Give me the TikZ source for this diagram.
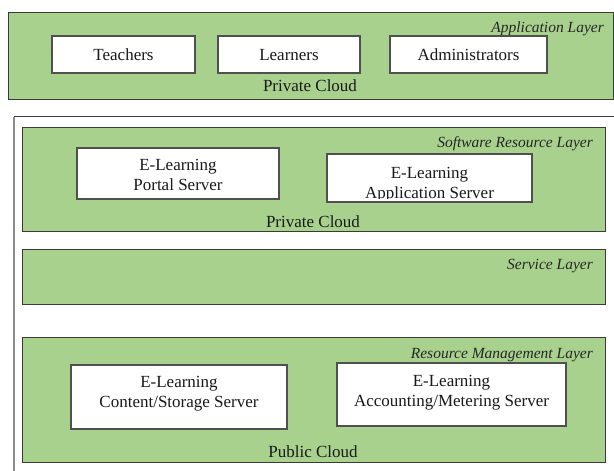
\documentclass[tikz,border=0pt]{standalone}
\usepackage{fontspec}
\setmainfont{LiberationSerif}[Extension=.ttf, UprightFont=*-Regular, ItalicFont=*-Italic, BoldFont=*-Bold, BoldItalicFont=*-BoldItalic]
\definecolor{lgreen}{HTML}{A9D18E}
\definecolor{edge}{HTML}{3A3A3A}
\definecolor{boxedge}{HTML}{505050}
\definecolor{sidegray}{HTML}{8C8C8C}
\begin{document}
\begin{tikzpicture}[x=1pt,y=1pt,
  layer/.style={draw=edge, fill=lgreen, line width=0.9pt, anchor=north west, inner sep=0pt, outer sep=0pt},
  box/.style={draw=boxedge, fill=white, line width=1.1pt, anchor=north west, inner sep=0pt, outer sep=0pt},
  txt/.style={font=\fontsize{17}{20}\selectfont, anchor=base, inner sep=0pt, text=black!90},
  lbl/.style={font=\fontsize{15.5}{18}\selectfont\itshape, anchor=base east, inner sep=0pt, text=black!85}]
\useasboundingbox (0,0) rectangle (614,-471);
\fill[white] (0,0) rectangle (614,-471);

% outer frame
\coordinate (fTL) at (14,-116.5);
\coordinate (fTR) at (614,-116.5);
\coordinate (fBL) at (14,-471);
\draw[edge, line width=0.9pt] (fTL) -- (fTR);
\draw[sidegray, line width=1.6pt] (fTL) -- (fBL);

% Application layer
\node[layer, minimum width=605, minimum height=87] (app) at (8,-12) {};
\node[lbl] (applbl) at (604,-32) {Application Layer};
\node[box, minimum width=143, minimum height=37] (teach) at (52,-36) {};
\node[box, minimum width=142, minimum height=37] (learn) at (218,-36) {};
\node[box, minimum width=157, minimum height=37] (admin) at (390,-36) {};
\node[txt] (teacht) at (123.5,-60) {Teachers};
\node[txt] (learnt) at (289,-60) {Learners};
\node[txt] (admint) at (468.5,-60) {Administrators};
\node[txt] (pc1) at (310,-91) {Private Cloud};

% Software resource layer
\node[layer, minimum width=583, minimum height=104] (sr) at (22,-127) {};
\node[lbl] (srlbl) at (593,-147) {Software Resource Layer};
\node[box, minimum width=202, minimum height=51] (portal) at (77,-148) {};
\node[txt] (portalt1) at (178,-170) {E-Learning};
\node[txt] (portalt2) at (178,-190) {Portal Server};
\node[box, minimum width=205, minimum height=48] (appsrv) at (327,-154) {};
\node[txt] (appsrvt1) at (429.5,-178.3) {E-Learning};
\begin{scope}
  \clip (327,-154) rectangle (532,-198.4);
  \node[txt] (appsrvt2) at (429.5,-198.8) {Application Server};
\end{scope}
\begin{scope}
  \clip (22,-200) rectangle (605,-228);
  \node[txt] (pc2) at (313,-227.5) {Private Cloud};
\end{scope}

% Service layer
\node[layer, minimum width=583, minimum height=55] (svc) at (22,-249) {};
\node[lbl] (svclbl) at (593,-269) {Service Layer};

% Resource management layer
\node[layer, minimum width=583, minimum height=125] (rm) at (22,-337) {};
\node[lbl] (rmlbl) at (593,-358) {Resource Management Layer};
\node[box, minimum width=216, minimum height=64] (content) at (71,-365) {};
\node[txt] (contentt1) at (179,-387) {E-Learning};
\node[txt] (contentt2) at (179,-407) {Content/Storage Server};
\node[box, minimum width=229, minimum height=63] (acct) at (337,-363) {};
\node[txt] (acctt1) at (451.5,-386.5) {E-Learning};
\node[txt] (acctt2) at (451.5,-406.5) {Accounting/Metering Server};
\node[txt] (pubc) at (313,-457) {Public Cloud};
\end{tikzpicture}
\end{document}
